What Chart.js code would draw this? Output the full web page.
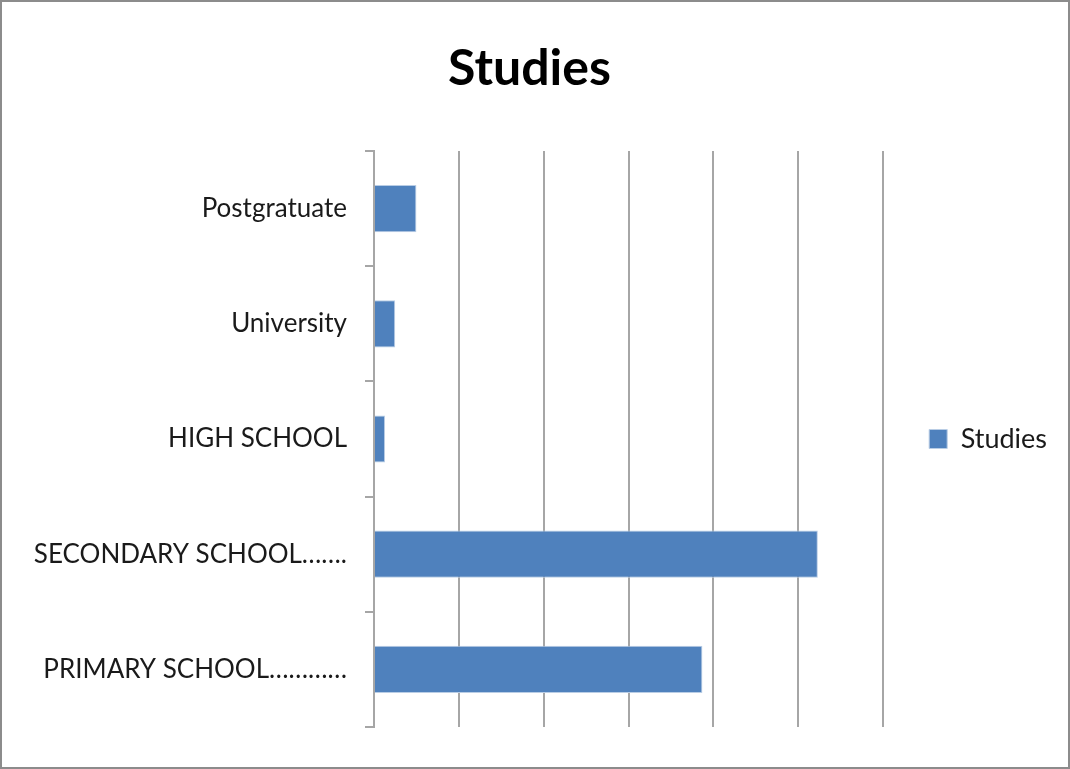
<!DOCTYPE html>
<html>
<head>
<meta charset="utf-8">
<script src="https://cdn.jsdelivr.net/npm/chart.js@4/dist/chart.umd.min.js"></script>
<style>
  html, body { margin: 0; padding: 0; background: #fff; }
  #frame {
    position: absolute; left: 0; top: 0;
    width: 1070px; height: 769px;
    box-sizing: border-box;
    border: 2px solid #8c8c8c;
    background: #fff;
  }
  #frame canvas { display: block; }
</style>
</head>
<body>
<div id="frame"><canvas id="studiesChart" width="1066" height="765"></canvas></div>
<script>
// DATA
const categories = ['Postgratuate', 'University', 'HIGH SCHOOL', 'SECONDARY SCHOOL…….', 'PRIMARY SCHOOL…………'];
const studies = [5, 2.5, 1.3, 52.3, 38.7];
const xTicks = [0, 10, 20, 30, 40, 50, 60];

const FONT = 'Lato, "Open Sans", sans-serif';
const GRID = '#a6a6a6';

const ctx = document.getElementById('studiesChart');
new Chart(ctx, {
    type: 'bar',
    data: {
        labels: categories,
        datasets: [{
            label: 'Studies',
            data: studies,
            backgroundColor: '#4f81bd',
            borderColor: '#b9cde5',
            borderWidth: 1,
            categoryPercentage: 1,
            barPercentage: 0.41
        }]
    },
    options: {
        indexAxis: 'y',
        responsive: false,
        animation: false,
        layout: { padding: { left: 0, right: 11, top: 0, bottom: 40 } },
        plugins: {
            title: {
                display: true,
                text: 'Studies',
                color: '#000',
                font: { family: FONT, size: 50, weight: 'bold' },
                padding: { top: 37, bottom: 52 }
            },
            legend: {
                position: 'right',
                fullSize: false,
                labels: {
                    color: '#1a1a1a',
                    font: { family: FONT, size: 27 },
                    boxWidth: 18, boxHeight: 19,
                    padding: 46
                }
            },
            tooltip: { enabled: false }
        },
        scales: {
            x: {
                min: xTicks[0], max: xTicks[xTicks.length - 1],
                afterBuildTicks: s => { s.ticks = xTicks.map(v => ({ value: v })); },
                afterFit: s => { s.height = 0; },
                ticks: { display: false },
                border: { display: false },
                grid: { color: GRID, lineWidth: 2, drawTicks: false }
            },
            y: {
                afterFit: s => { s.width = 372; },
                ticks: { color: '#1a1a1a', font: { family: FONT, size: 26 }, padding: 18 },
                border: { color: GRID, width: 2 },
                grid: { offset: true, drawOnChartArea: false, color: GRID, lineWidth: 2, tickLength: 9 }
            }
        }
    }
});
</script>
</body>
</html>
